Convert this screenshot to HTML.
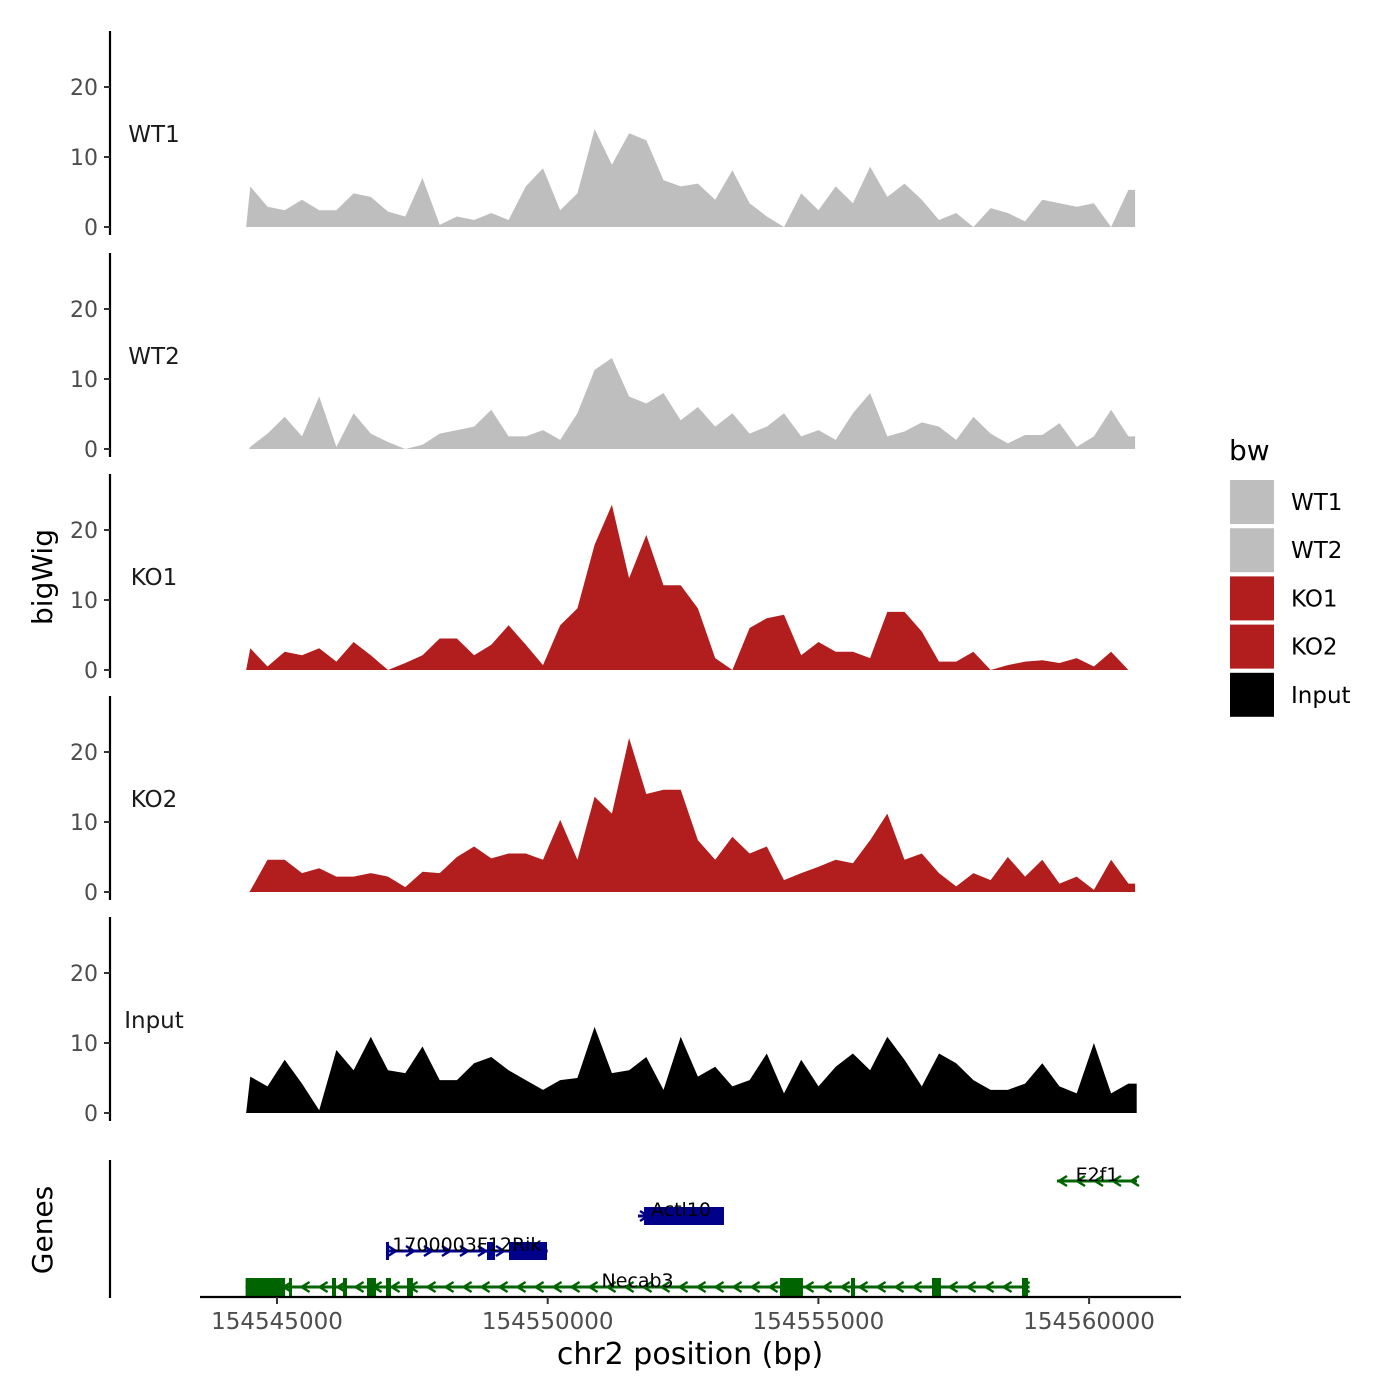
<!DOCTYPE html>
<html><head><meta charset="utf-8"><style>
html,body{margin:0;padding:0;background:#fff}
svg{display:block;font-family:"DejaVu Sans","Liberation Sans",sans-serif}
</style></head><body>
<svg id="chart" width="1400" height="1400" viewBox="0 0 1400 1400" xmlns="http://www.w3.org/2000/svg"></svg>
<script>
const trackNames = ["WT1","WT2","KO1","KO2","Input"];
const trackColors = ["#bebebe","#bebebe","#b21e1e","#b21e1e","#000000"];
const posStart = 154544507;
const posStep = 318;
const wt1 = [5.8,2.9,2.4,3.9,2.4,2.4,4.8,4.3,2.2,1.5,7,0.3,1.5,1,2,1,5.8,8.4,2.4,4.8,14,8.9,13.4,12.4,6.7,5.8,6.2,3.9,8.1,3.4,1.5,0,4.8,2.4,5.8,3.4,8.6,4.3,6.2,3.9,1,2,0,2.7,2,0.8,3.9,3.4,2.9,3.4,0,5.3];
const wt2 = [0.3,2.2,4.6,1.8,7.5,0.3,5.1,2.2,1,0,0.6,2.2,2.7,3.2,5.6,1.8,1.8,2.7,1.3,5.1,11.3,13,7.5,6.5,8,4.1,6,3.2,5.1,2.2,3.2,5.1,1.8,2.7,1.3,5.1,8,1.8,2.5,3.8,3.2,1.3,4.6,2.2,0.8,2,2,3.7,0.3,1.8,5.6,1.8];
const ko1 = [3.1,0.5,2.6,2.1,3.1,1.2,4,2.1,0,1,2.1,4.5,4.5,2.1,3.6,6.4,3.6,0.7,6.4,8.8,17.9,23.6,13.1,19.3,12.1,12.1,8.8,1.7,0,6,7.4,7.9,2.1,4,2.6,2.6,1.7,8.3,8.3,5.5,1.2,1.2,2.6,0,0.7,1.2,1.4,1,1.7,0.5,2.6,0];
const ko2 = [0.2,4.6,4.6,2.7,3.4,2.2,2.2,2.7,2.2,0.7,2.9,2.7,5,6.5,4.8,5.5,5.5,4.6,10.3,4.6,13.6,11.2,22,14,14.6,14.6,7.4,4.6,7.9,5.5,6.5,1.7,2.7,3.6,4.6,4.1,7.4,11.2,4.6,5.5,2.7,0.8,2.7,1.7,5,2.2,4.6,1.2,2.2,0.3,4.6,1.2];
const input = [5.2,3.8,7.6,4.2,0.4,9,6.1,10.9,6.1,5.7,9.5,4.7,4.7,7.1,8,6.1,4.7,3.3,4.7,5,12.3,5.7,6.1,8,3.3,10.9,5.2,6.6,3.8,4.7,8.5,2.8,7.6,3.8,6.6,8.5,6.1,10.9,7.6,3.8,8.5,7.1,4.7,3.3,3.3,4.2,7.1,3.8,2.8,10,2.8,4.2];
const seriesData = [wt1,wt2,ko1,ko2,input];
const yTicks = [0,10,20];
const xTicks = [154545000,154550000,154555000,154560000];
const xTickLabels = ["154545000","154550000","154555000","154560000"];
const trackStart = [154544430,154544485,154544430,154544485,154544430];
const trackEnd = [154560850,154560850,154560650,154560850,154560880];
const geneNames = ["Necab3","1700003F12Rik","Actl10","E2f1"];
const geneStart = [154544420,154547013,154551668,154559407];
const geneEnd = [154558900,154550000,154553256,154560885];
const geneStrand = [-1,1,1,-1];
const geneRow = [0,1,2,3];
const geneColor = ["#006400","#00008b","#00008b","#006400"];
const geneExons = [
 [[154544420,154545150],[154545222,154545277],[154546016,154546090],[154546219,154546293],[154546662,154546829],[154547013,154547106],[154547401,154547512],[154554291,154554715],[154555602,154555676],[154557098,154557264],[154558760,154558871]],
 [[154547013,154547060],[154548879,154549027],[154549285,154549987]],
 [[154551779,154553256]],
 []
];

const svg = document.getElementById('chart');
const NS = 'http://www.w3.org/2000/svg';
function mk(tag, attrs, parent){const e=document.createElementNS(NS,tag);for(const k in attrs)e.setAttribute(k,attrs[k]);(parent||svg).appendChild(e);return e;}
function xScale(bp){return 277 + (bp-154545000)*270.7/5000;}
const panelBase = [227,449,670,892,1113];
function yScale(v,p){return panelBase[p] - v*7;}

for(let p=0;p<5;p++){
  const g = mk('g',{});
  
  
  const ax = mk('line',{x1:110,x2:110,y1:panelBase[p]-196,y2:panelBase[p]+8,stroke:'#000','stroke-width':2.2},g);
  
  
  yTicks.forEach(t=>{
    const y=yScale(t,p);
    const tk = mk('line',{x1:104,x2:110,y1:y,y2:y,stroke:'#333','stroke-width':2},g);
    
    
    const tl = mk('text',{x:98,y:y+8,'text-anchor':'end','font-size':22,fill:'#4d4d4d'},g);
    tl.textContent=t;
    
    
  });
  const lbl = mk('text',{x:154,y:panelBase[p]-85,'text-anchor':'middle','font-size':23,fill:'#1a1a1a'},g);
  lbl.textContent=trackNames[p];
  
  
  const vals = seriesData[p];
  let d = 'M'+xScale(trackStart[p])+','+panelBase[p];
  vals.forEach((v,i)=>{ d+=' L'+xScale(posStart+i*posStep).toFixed(1)+','+yScale(v,p).toFixed(1); });
  const lastX = xScale(trackEnd[p]);
  d += ' L'+lastX.toFixed(1)+','+yScale(vals[vals.length-1],p).toFixed(1)+' L'+lastX.toFixed(1)+','+panelBase[p]+' Z';
  const area = mk('path',{d:d,fill:trackColors[p]},g);
  
  
}

const yt = mk('text',{x:0,y:0,transform:'translate(52,577) rotate(-90)','text-anchor':'middle','font-size':28,fill:'#000'});
yt.textContent='bigWig';



const gg = mk('g',{});


const gax = mk('line',{x1:110,x2:110,y1:1160,y2:1298,stroke:'#000','stroke-width':2.2},gg);


const gt = mk('text',{x:0,y:0,transform:'translate(52,1230) rotate(-90)','text-anchor':'middle','font-size':28,fill:'#000'},gg);
gt.textContent='Genes';


const rowY=[1287,1251,1216,1181];
geneNames.forEach((n,i)=>{
  const grp = mk('g',{},gg);
  
  
  const y=rowY[geneRow[i]], x1=xScale(geneStart[i]), x2=xScale(geneEnd[i]), c=geneColor[i];
  mk('line',{x1:x1,x2:x2,y1:y,y2:y,stroke:c,'stroke-width':3},grp);
  for(let ax=x1+6; ax<=x2-2; ax+=18){
    const s=geneStrand[i];
    mk('polyline',{points:(ax-4*s)+','+(y-5)+' '+(ax+4*s)+','+y+' '+(ax-4*s)+','+(y+5),fill:'none',stroke:c,'stroke-width':2.5},grp);
  }
  geneExons[i].forEach(e=>{
    mk('rect',{x:xScale(e[0]),y:y-9,width:Math.max(3,xScale(e[1])-xScale(e[0])),height:18,fill:c},grp);
  });
  const t = mk('text',{x:(x1+x2)/2,y:y,'text-anchor':'middle','font-size':19,fill:'#000'},grp);
  t.textContent=n;
  
  
});

const xl = mk('line',{x1:200,x2:1181,y1:1297,y2:1297,stroke:'#000','stroke-width':2.2});


xTicks.forEach((t,i)=>{
  const x=xScale(t);
  const tk=mk('line',{x1:x,x2:x,y1:1297,y2:1304,stroke:'#333','stroke-width':2});
  
  
  const tl=mk('text',{x:x,y:1329,'text-anchor':'middle','font-size':23,fill:'#4d4d4d'});
  tl.textContent=xTickLabels[i];
  
  
});
const xt=mk('text',{x:690,y:1364,'text-anchor':'middle','font-size':30,fill:'#000'});
xt.textContent='chr2 position (bp)';



const lg = mk('g',{});


const lt = mk('text',{x:1229,y:460,'font-size':28,fill:'#000'},lg);
lt.textContent='bw';


trackNames.forEach((n,i)=>{
  const e = mk('g',{},lg);
  
  
  mk('rect',{x:1230,y:480+i*48.2,width:44,height:44,fill:trackColors[i]},e);
  const t=mk('text',{x:1291,y:510+i*48.2,'font-size':23,fill:'#000'},e);
  t.textContent=n;
});
</script>
</body></html>
